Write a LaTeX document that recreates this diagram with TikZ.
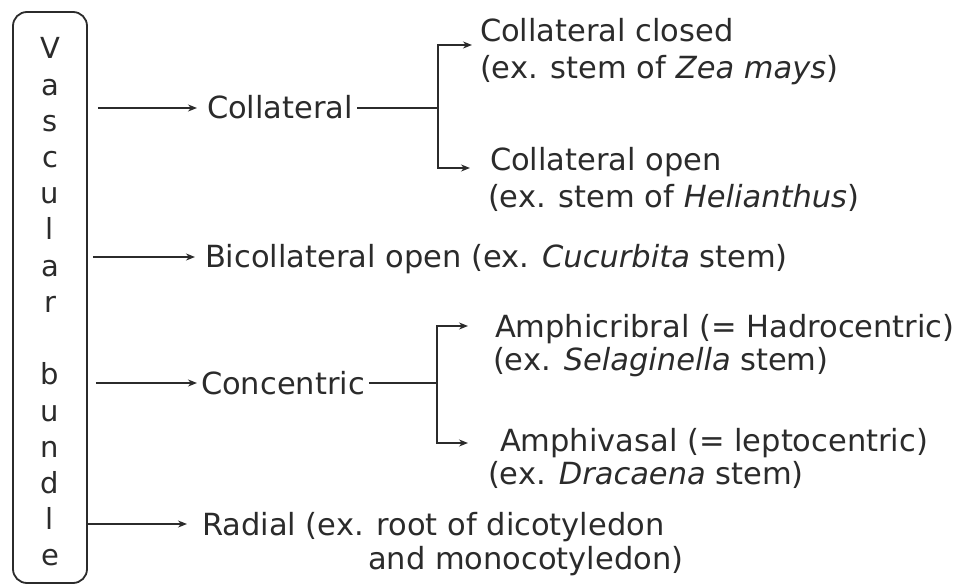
\documentclass[tikz,border=0pt]{standalone}
\usepackage{fontspec}
\setmainfont{DejaVu Sans}
\usetikzlibrary{arrows.meta}
\definecolor{ink}{HTML}{2B2B2B}
\begin{document}
\begin{tikzpicture}[x=1pt,y=-1pt,
  txt/.style={anchor=west,inner sep=0pt,outer sep=0pt,text height=22pt,text depth=0pt,text=ink,font=\fontsize{30.5}{34}\selectfont},
  letter/.style={anchor=base,inner sep=0pt,text=ink,font=\fontsize{29}{32}\selectfont},
  ln/.style={draw=ink,line width=1.7pt},
  arr/.style={ln,-{Stealth[length=9pt,width=7pt]}}]
\useasboundingbox (0,0) rectangle (964,588);
\node[draw=ink,line width=1.8pt,rounded corners=14pt,minimum width=74pt,minimum height=571pt,inner sep=0pt] (vb) at (50,297.5) {};
\foreach \ch [count=\i from 0] in {V,a,s,c,u,l,a,r,{},b,u,n,d,l,e}
  \node[letter] (L\i) at (50,{59+\i*36.2}) {\ch};
% left column
\node[txt] (coll) at (207,108) {Collateral};
\node[txt] (bi) at (205,257) {Bicollateral open (ex. \textit{Cucurbita} stem)};
\node[txt] (conc) at (201,383) {Concentric};
\node[txt] (rad) at (202,524) {Radial (ex. root of dicotyledon};
\node[txt] (rad2) at (368,558) {and monocotyledon)};
% right column
\node[txt] (cc1) at (480,31) {Collateral closed};
\node[txt] (cc2) at (480,68) {(ex. stem of \textit{Zea mays})};
\node[txt] (co1) at (490,160) {Collateral open};
\node[txt] (co2) at (488,197) {(ex. stem of \textit{Helianthus})};
\node[txt] (am1) at (495,326) {Amphicribral (= Hadrocentric)};
\node[txt] (am2) at (493,359) {(ex. \textit{Selaginella} stem)};
\node[txt] (av1) at (500,440) {Amphivasal (= leptocentric)};
\node[txt] (av2) at (488,473) {(ex. \textit{Dracaena} stem)};
% arrows from the box
\draw[arr] ([xshift=10pt]vb.east |- coll.west) -- ([xshift=-10pt]coll.west);
\draw[arr] ([xshift=5pt]vb.east |- bi.west) -- ([xshift=-10pt]bi.west);
\draw[arr] ([xshift=8pt]vb.east |- conc.west) -- ([xshift=-4pt]conc.west);
\draw[arr] (vb.east |- rad.west) -- ([xshift=-15pt]rad.west);
% brackets
\coordinate (j1) at (438,108);
\coordinate (j2) at (437,383);
\draw[ln] ([xshift=4pt]coll.east) -- (j1);
\draw[arr] (j1) |- ([xshift=-8pt,yshift=-14pt]cc1.west);
\draw[arr] (j1) |- ([xshift=-20pt,yshift=-8pt]co1.west);
\draw[ln] ([xshift=4pt]conc.east) -- (j2);
\draw[arr] (j2) |- ([xshift=-27pt,yshift=0pt]am1.west);
\draw[arr] (j2) |- ([xshift=-32pt,yshift=-3pt]av1.west);
\end{tikzpicture}
\end{document}
